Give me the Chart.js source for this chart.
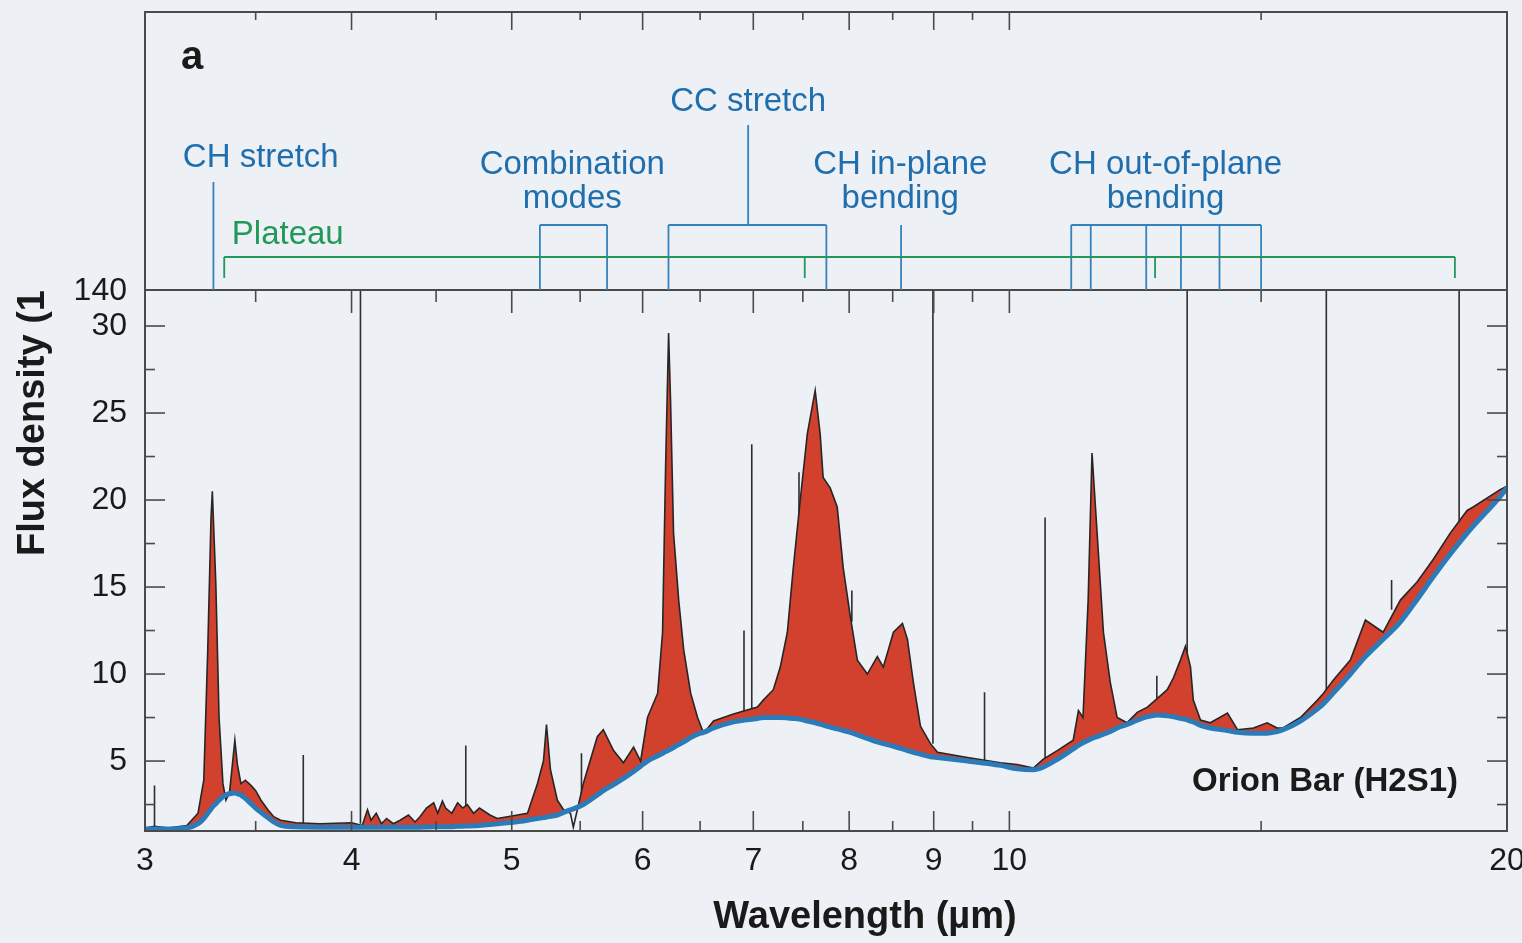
<!DOCTYPE html>
<html>
<head>
<meta charset="utf-8">
<script src="https://cdn.jsdelivr.net/npm/chart.js@4.4.1/dist/chart.umd.min.js"></script>
<style>
html,body{margin:0;padding:0;background:#edf0f4;}
canvas{display:block;}
</style>
</head>
<body>
<canvas id="c" width="1522" height="943"></canvas>
<script>
// ---------- DATA ----------
const wavelength = [
  3.00,3.04,3.10,3.18,3.23,3.256,3.274,3.289,3.295,3.311,3.326,3.344,3.358,3.375,3.40,3.412,3.429,3.45,3.477,3.50,
  3.526,3.56,3.589,3.624,3.70,3.83,
  4.00,4.06,4.09,4.11,4.14,4.17,4.20,4.24,4.28,4.33,4.37,4.40,4.44,4.485,4.51,4.54,4.56,4.60,4.637,4.67,4.70,4.741,4.78,4.85,4.90,4.971,
  5.111,5.182,
  5.226,5.248,5.277,5.328,5.374,5.426,5.448,5.524,5.633,5.68,5.762,5.842,5.925,5.983,6.041,6.127,6.169,6.195,6.221,6.238,
  6.264,6.309,6.353,6.415,6.477,6.532,6.623,6.81,7.04,7.098,7.198,7.268,7.34,7.401,7.473,7.547,7.63,7.683,7.715,7.791,
  7.868,7.934,8.013,8.092,8.205,8.32,8.39,8.509,8.616,8.676,8.749,8.835,8.959,9.047,9.433,9.875,10.11,10.34,10.48,10.69,
  10.93,11.01,11.08,11.16,11.22,11.30,11.40,11.51,11.62,11.78,11.95,12.12,12.29,12.46,12.57,12.69,12.78,12.87,12.92,13.05,
  13.23,13.55,13.74,14.05,14.32,14.52,14.64,15.00,15.36,15.49,15.70,16.08,16.42,16.83,17.24,17.65,18.05,18.48,18.92,19.08,
  19.81,20.00
];
const flux = [
  1.15,1.25,1.15,1.30,2.00,3.90,11.4,19.0,20.5,15.2,7.5,3.7,2.75,3.2,6.2,4.8,3.7,3.9,3.6,3.3,
  2.75,2.2,1.8,1.6,1.45,1.40,
  1.45,1.30,2.2,1.6,2.0,1.4,1.7,1.4,1.6,1.9,1.5,1.8,2.3,2.6,2.0,2.7,2.3,2.0,2.6,2.3,2.5,2.0,2.3,1.9,1.7,1.8,
  2.0,3.7,
  5.0,7.1,4.5,2.75,2.2,2.0,1.2,3.7,6.4,6.8,5.6,4.9,5.8,5.0,7.5,8.9,12.4,21.9,29.6,25.7,
  18.1,14.25,11.4,8.9,7.5,6.6,7.3,7.7,8.1,8.5,9.1,10.4,12.4,16.1,20.0,23.8,26.3,23.8,21.3,20.7,
  19.6,16.1,13.3,10.8,10.0,11.0,10.4,12.4,12.9,12.0,9.5,7.0,6.0,5.5,5.2,4.9,4.8,4.6,5.1,5.6,
  6.2,7.9,7.5,14.25,22.7,18.1,12.4,9.5,7.5,7.2,7.8,8.1,8.6,9.1,9.8,10.8,11.6,10.4,8.5,7.36,
  7.2,7.76,6.8,6.9,7.2,6.9,6.9,7.5,8.5,8.9,9.65,10.8,13.1,12.4,14.25,15.3,16.6,18.1,19.4,19.6,
  20.6,20.8
];
const continuum = [
  1.10,1.10,1.10,1.15,1.40,1.70,2.00,2.25,2.35,2.55,2.75,2.95,3.05,3.12,3.16,3.12,3.05,2.85,2.55,2.30,
  2.05,1.75,1.50,1.30,1.22,1.20,
  1.20,1.20,1.20,1.20,1.20,1.20,1.20,1.20,1.20,1.20,1.20,1.20,1.21,1.22,1.22,1.22,1.22,1.23,1.25,1.26,1.27,1.28,1.30,1.35,1.39,1.45,
  1.60,1.70,
  1.75,1.78,1.82,1.90,2.05,2.20,2.25,2.50,3.05,3.30,3.65,4.00,4.40,4.70,5.00,5.30,5.45,5.55,5.62,5.68,
  5.78,5.95,6.10,6.35,6.55,6.65,6.90,7.25,7.45,7.50,7.50,7.50,7.48,7.45,7.40,7.30,7.20,7.12,7.07,6.95,
  6.85,6.75,6.65,6.50,6.30,6.10,6.00,5.85,5.70,5.60,5.50,5.40,5.25,5.20,5.00,4.75,4.55,4.50,4.65,5.10,
  5.70,5.90,6.05,6.20,6.30,6.40,6.55,6.70,6.90,7.10,7.35,7.55,7.65,7.60,7.55,7.45,7.40,7.30,7.25,7.05,
  6.90,6.75,6.65,6.60,6.60,6.70,6.80,7.30,8.00,8.30,8.90,10.0,11.0,12.0,13.0,14.3,15.6,16.9,18.1,18.5,
  20.2,20.7
];
// narrow emission lines (wavelength, peak flux, flux at line foot)
const lineWavelength = [3.04, 3.74, 4.05, 4.69, 5.51, 6.91, 6.985, 7.46, 8.03, 8.99, 9.66, 10.51, 12.28, 12.81, 15.55, 17.03, 18.71];
const linePeak       = [3.6,  5.35, 60,   5.9,  5.45, 12.5, 23.2,  21.6, 14.8, 60,   8.96, 19.0,  9.9,   60,    60,    15.4,  60];
const lineBase       = [1.2,  1.4,  1.4,  2.3,  2.9,  7.6,  7.9,   19.0, 13.0, 6.0,  5.0,  5.0,   8.6,   11.0,  9.0,   13.7,  18.6];

// axis ticks
const xTickLabels = [3, 4, 5, 6, 7, 8, 9, 10, 20];
const xMajorTicks = [4, 5, 6, 7, 8, 9, 10];
const xMinorTicks = [3.5, 4.5, 5.5, 6.5, 7.5, 8.5, 9.5, 14.2];
const yTickLabels = [5, 10, 15, 20, 25, 30];
const yMinorTicks = [2.5, 7.5, 12.5, 17.5, 22.5, 27.5];
const xTitle = 'Wavelength (µm)';
const yTitle = 'Flux density (1';

// band annotations (wavelengths in µm)
const chStretchWl = [3.30];
const combinationWl = [5.20, 5.71];
const ccStretchWl = [6.22, 7.75];
const ccStemWl = [6.95];
const chInPlaneWl = [8.60];
const chOutOfPlaneWl = [10.9, 11.2, 12.1, 12.7, 13.4, 14.2];
const plateauWl = [3.35, 7.52, 12.25, 18.6];
const bandNames = [['CH stretch'], ['Combination', 'modes'], ['CC stretch'], ['CH in-plane', 'bending'], ['CH out-of-plane', 'bending']];
const bandLabelWl = [3.525, 5.44, 6.95, 8.59, 12.43];
const plateauName = 'Plateau';
const plateauLabelWl = 3.66;

// ---------- DRAWING ----------
const FONT = '"Liberation Sans", Arial, Helvetica, sans-serif';
const INK = '#1a1a1a';
const AXIS = '#4a4a4a';
const BLUE_TXT = '#1f6fae';
const BLUE_LN = '#3482bd';
const GREEN = '#22985a';

const lineData = [];
lineWavelength.forEach((w, i) => {
  lineData.push({x: w, y: lineBase[i]}, {x: w, y: linePeak[i]}, {x: w, y: null});
});

const bgPlugin = {
  id: 'bg',
  beforeDraw(chart) {
    const ctx = chart.ctx;
    ctx.save();
    ctx.fillStyle = '#edf0f4';
    ctx.fillRect(0, 0, chart.width, chart.height);
    ctx.restore();
  }
};

const panelPlugin = {
  id: 'panel',
  afterDraw(chart) {
    const {ctx, chartArea: a, scales} = chart;
    const xs = scales.x, ys = scales.y;
    const X = v => xs.getPixelForValue(v);
    const topY = 12;
    ctx.save();
    // frames
    ctx.strokeStyle = AXIS;
    ctx.lineWidth = 2;
    ctx.strokeRect(a.left, topY, a.right - a.left, a.bottom - topY);
    ctx.beginPath(); ctx.moveTo(a.left, a.top); ctx.lineTo(a.right, a.top); ctx.stroke();

    // inward ticks
    ctx.lineWidth = 1.6;
    const seg = (x1, y1, x2, y2) => { ctx.beginPath(); ctx.moveTo(x1, y1); ctx.lineTo(x2, y2); ctx.stroke(); };
    xMajorTicks.forEach(v => { const p = X(v); seg(p, a.bottom, p, a.bottom - 20); seg(p, a.top, p, a.top + 23); seg(p, topY, p, topY + 18); });
    xMinorTicks.forEach(v => { const p = X(v); seg(p, a.bottom, p, a.bottom - 10); seg(p, a.top, p, a.top + 12); seg(p, topY, p, topY + 8); });
    yTickLabels.forEach(v => { const p = ys.getPixelForValue(v); seg(a.left, p, a.left + 20, p); seg(a.right, p, a.right - 20, p); });
    yMinorTicks.forEach(v => { const p = ys.getPixelForValue(v); seg(a.left, p, a.left + 10, p); seg(a.right, p, a.right - 10, p); });

    // annotation lines (blue)
    ctx.strokeStyle = BLUE_LN;
    ctx.lineWidth = 1.8;
    const boxTop = 225;
    seg(X(chStretchWl[0]), 182, X(chStretchWl[0]), a.top);
    // combination modes box
    seg(X(combinationWl[0]), a.top, X(combinationWl[0]), boxTop);
    seg(X(combinationWl[0]), boxTop, X(combinationWl[1]), boxTop);
    seg(X(combinationWl[1]), boxTop, X(combinationWl[1]), a.top);
    // CC stretch box + stem
    seg(X(ccStretchWl[0]), a.top, X(ccStretchWl[0]), boxTop);
    seg(X(ccStretchWl[0]), boxTop, X(ccStretchWl[1]), boxTop);
    seg(X(ccStretchWl[1]), boxTop, X(ccStretchWl[1]), a.top);
    seg(X(ccStemWl[0]), boxTop, X(ccStemWl[0]), 125);
    // CH in-plane
    seg(X(chInPlaneWl[0]), boxTop, X(chInPlaneWl[0]), a.top);
    // CH out-of-plane
    seg(X(chOutOfPlaneWl[0]), boxTop, X(chOutOfPlaneWl[chOutOfPlaneWl.length - 1]), boxTop);
    chOutOfPlaneWl.forEach(w => seg(X(w), boxTop, X(w), a.top));

    // plateau (green)
    ctx.strokeStyle = GREEN;
    const platY = 257;
    seg(X(plateauWl[0]), platY, X(plateauWl[plateauWl.length - 1]), platY);
    plateauWl.forEach(w => seg(X(w), platY, X(w), 278));

    // texts
    ctx.textAlign = 'center';
    ctx.textBaseline = 'middle';
    ctx.font = '33px ' + FONT;
    ctx.fillStyle = BLUE_TXT;
    const rows = [[158], [165, 199], [102], [165, 199], [165, 199]];
    bandNames.forEach((lines, i) => {
      lines.forEach((t, j) => ctx.fillText(t, X(bandLabelWl[i]), rows[i][j]));
    });
    ctx.fillStyle = GREEN;
    ctx.fillText(plateauName, X(plateauLabelWl), 235);

    ctx.fillStyle = INK;
    ctx.font = 'bold 40px ' + FONT;
    ctx.fillText('a', 192, 58);
    // x-axis title (placed as in the figure, right of the plot centre)
    ctx.font = 'bold 38px ' + FONT;
    ctx.fillText(xTitle, 865, 918);
    ctx.textAlign = 'right';
    ctx.font = '32px ' + FONT;
    ctx.fillText('140', 127, 291);
    ctx.font = 'bold 33px ' + FONT;
    ctx.fillText('Orion Bar (H2S1)', 1458, 782);
    ctx.restore();
  }
};

new Chart(document.getElementById('c'), {
  type: 'line',
  data: {
    datasets: [
      {
        label: 'Continuum',
        data: wavelength.map((w, i) => ({x: w, y: continuum[i]})),
        borderColor: '#2b7bb8',
        borderWidth: 5,
        pointRadius: 0,
        cubicInterpolationMode: 'monotone',
        fill: false
      },
      {
        label: 'Spectrum',
        data: wavelength.map((w, i) => ({x: w, y: flux[i]})),
        borderColor: '#262626',
        borderWidth: 1.6,
        pointRadius: 0,
        tension: 0,
        fill: {target: 0, above: '#d2402e', below: 'rgba(0,0,0,0)'}
      },
      {
        label: 'Lines',
        data: lineData,
        borderColor: '#2e2e2e',
        borderWidth: 1.6,
        pointRadius: 0,
        tension: 0,
        spanGaps: false,
        fill: false
      }
    ]
  },
  options: {
    responsive: false,
    animation: false,
    devicePixelRatio: 1,
    layout: {padding: {top: 290, right: 15, left: 0, bottom: 0}},
    plugins: {legend: {display: false}, tooltip: {enabled: false}},
    scales: {
      x: {
        type: 'logarithmic',
        position: 'bottom',
        min: 3,
        max: 20,
        afterBuildTicks: s => { s.ticks = xTickLabels.map(v => ({value: v})); },
        afterFit: s => { s.height = 112; s.paddingLeft = 0; s.paddingRight = 0; },
        grid: {display: false, drawTicks: false},
        border: {display: true, color: AXIS, width: 2},
        ticks: {autoSkip: false, maxRotation: 0, minRotation: 0, padding: 11, color: INK,
                font: {size: 32, family: FONT}, callback: v => String(v)},
        title: {display: false, text: xTitle}
      },
      y: {
        type: 'linear',
        min: 0.98,
        max: 32.07,
        afterBuildTicks: s => { s.ticks = yTickLabels.map(v => ({value: v})); },
        afterFit: s => { s.width = 145; s.paddingTop = 0; s.paddingBottom = 0; },
        grid: {display: false, drawTicks: false},
        border: {display: true, color: AXIS, width: 2},
        ticks: {padding: 18, color: INK, font: {size: 32, family: FONT}},
        title: {display: true, text: yTitle, align: 'end', color: INK,
                font: {size: 38, weight: 'bold', family: FONT}, padding: {top: 11, bottom: 0}}
      }
    }
  },
  plugins: [bgPlugin, panelPlugin]
});
</script>
</body>
</html>
